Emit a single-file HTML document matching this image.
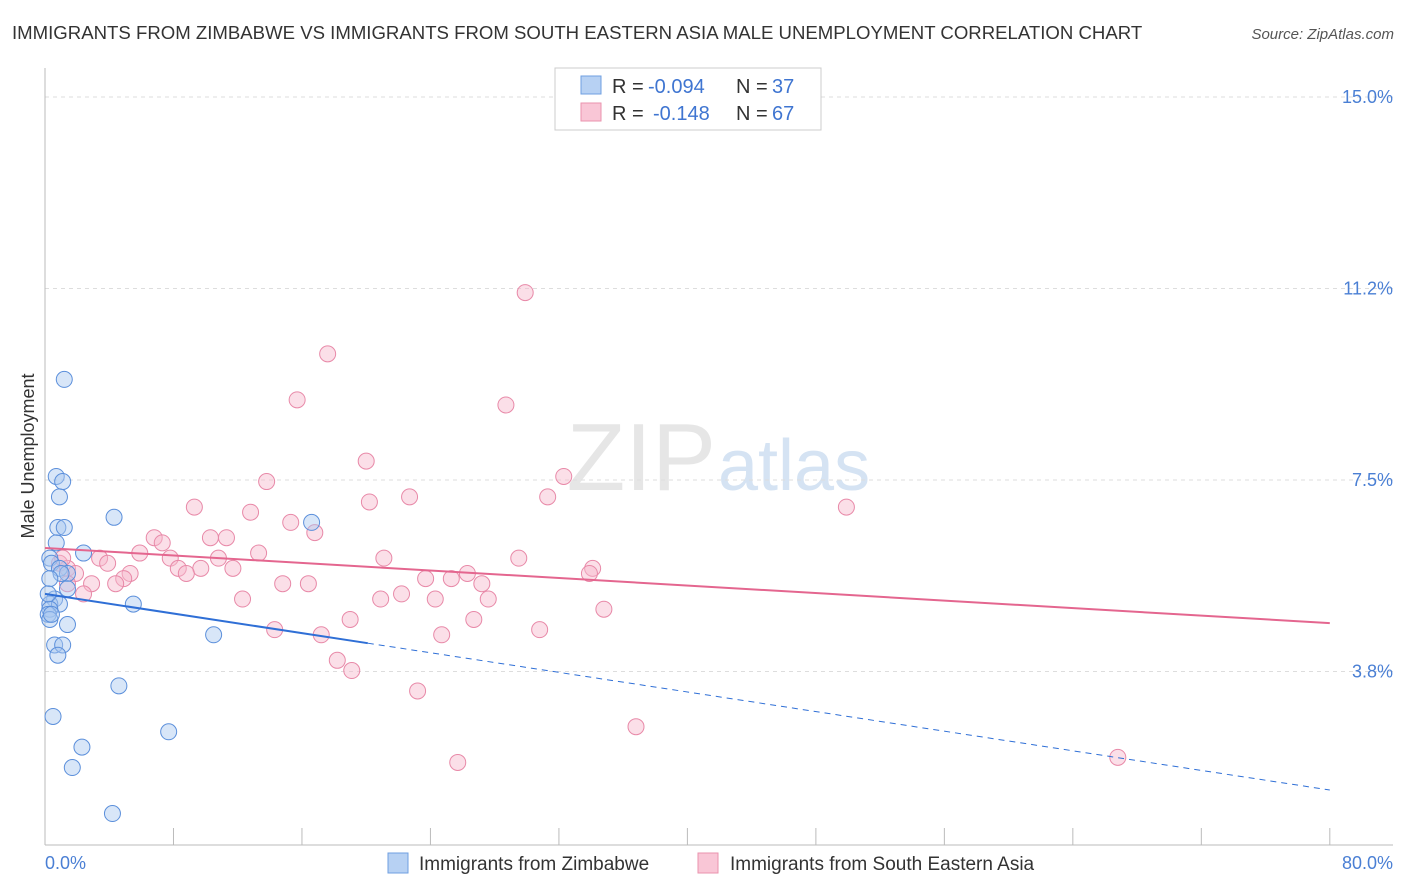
<!DOCTYPE html>
<html><head><meta charset="utf-8"><style>
body{margin:0;background:#fff;font-family:"Liberation Sans",sans-serif;overflow:hidden;}
svg text{font-family:"Liberation Sans",sans-serif;}
</style></head><body>
<svg id="chart" width="1406" height="892" style="overflow:hidden;display:block">
<text x="12" y="39" font-size="18.6" fill="#333">IMMIGRANTS FROM ZIMBABWE VS IMMIGRANTS FROM SOUTH EASTERN ASIA MALE UNEMPLOYMENT CORRELATION CHART</text>
<text x="1394" y="39" font-size="15" fill="#555" text-anchor="end" font-style="italic">Source: ZipAtlas.com</text>
<text x="716" y="490" font-size="96" fill="#e6e6e6" text-anchor="end" font-family="Liberation Serif">ZIP</text>
<text x="718" y="490" font-size="72" fill="#d5e3f3">atlas</text>
<g id="grid"></g><g id="axes"></g><g id="marks"></g>
<text transform="translate(34,456) rotate(-90)" font-size="18" fill="#333" text-anchor="middle">Male Unemployment</text>
<text x="45" y="869" font-size="18" fill="#4a7fd4">0.0%</text>
<text x="1393" y="869" font-size="18" fill="#4a7fd4" text-anchor="end">80.0%</text>
<g>
<rect x="555" y="68" width="266" height="62" fill="#fff" stroke="#ccc"/>
<rect x="581" y="76" width="20" height="18" fill="#b7d1f3" stroke="#6f9fe0"/>
<rect x="581" y="103" width="20" height="18" fill="#f9c6d6" stroke="#ea93ae"/>
<text x="612" y="93" font-size="20" fill="#333">R =</text>
<text x="648" y="93" font-size="20" fill="#3f75d1">-0.094</text>
<text x="736" y="93" font-size="20" fill="#333">N =</text>
<text x="772" y="93" font-size="20" fill="#3f75d1">37</text>
<text x="612" y="120" font-size="20" fill="#333">R =</text>
<text x="653" y="120" font-size="20" fill="#3f75d1">-0.148</text>
<text x="736" y="120" font-size="20" fill="#333">N =</text>
<text x="772" y="120" font-size="20" fill="#3f75d1">67</text>
</g>
<g>
<rect x="388" y="853" width="20" height="20" fill="#b7d1f3" stroke="#6f9fe0"/>
<text x="419" y="870" font-size="19" fill="#333">Immigrants from Zimbabwe</text>
<rect x="698" y="853" width="20" height="20" fill="#f9c6d6" stroke="#ea93ae"/>
<text x="730" y="870" font-size="19" fill="#333">Immigrants from South Eastern Asia</text>
</g>
</svg>
<script>
const yTicks=[3.75,7.5,11.25,15];
const yTickLabels=["3.8%","7.5%","11.2%","15.0%"];
const xTicks=[0,8,16,24,32,40,48,56,64,72,80];
const blueX=[1.2,0.7,1.1,0.9,4.3,0.8,1.2,16.6,2.4,0.3,0.4,0.9,1.4,1.0,0.3,1.4,0.6,0.3,5.5,0.9,0.3,0.2,0.3,1.4,10.5,0.6,1.1,0.8,4.6,0.5,7.7,2.3,1.7,4.2,0.2,0.4,0.7];
const blueY=[9.47,7.57,7.47,7.17,6.77,6.57,6.57,6.67,6.07,5.97,5.87,5.77,5.67,5.67,5.57,5.37,5.17,5.07,5.07,5.07,4.97,4.87,4.77,4.67,4.47,4.27,4.27,4.07,3.47,2.87,2.57,2.27,1.87,0.97,5.27,4.87,6.27];
const pinkX=[29.9,17.6,15.7,28.7,20.0,32.3,13.8,22.7,31.3,20.2,49.9,9.3,12.8,15.3,16.8,10.3,11.3,6.8,7.3,5.9,13.3,10.8,21.1,29.5,3.4,3.9,7.8,8.3,0.9,1.4,9.7,11.7,34.1,26.3,33.9,5.3,8.8,23.7,25.3,1.9,4.9,2.9,4.4,14.8,16.4,27.2,22.2,1.4,20.9,12.3,24.3,27.6,2.4,34.8,19.0,26.7,14.3,17.2,30.8,24.7,18.2,19.1,23.2,36.8,25.7,66.8,1.1];
const pinkY=[11.17,9.97,9.07,8.97,7.87,7.57,7.47,7.17,7.17,7.07,6.97,6.97,6.87,6.67,6.47,6.37,6.37,6.37,6.27,6.07,6.07,5.97,5.97,5.97,5.97,5.87,5.97,5.77,5.87,5.77,5.77,5.77,5.77,5.67,5.67,5.67,5.67,5.57,5.57,5.67,5.57,5.47,5.47,5.47,5.47,5.47,5.27,5.47,5.17,5.17,5.17,5.17,5.27,4.97,4.77,4.77,4.57,4.47,4.57,4.47,3.97,3.77,3.37,2.67,1.97,2.07,5.97];
const blueFit=[5.27,-0.048];
const pinkFit=[6.17,-0.0184];
const NS="http://www.w3.org/2000/svg";
const X=v=>45+v*16.06, Y=v=>97+(15-v)*51.07;
function mk(tag,a,parent){const e=document.createElementNS(NS,tag);for(const k in a)e.setAttribute(k,a[k]);document.getElementById(parent).appendChild(e);return e;}
yTicks.forEach((t,i)=>{
 const l=mk('line',{x1:45,x2:1393,y1:Y(t),y2:Y(t),stroke:'#ddd','stroke-dasharray':'4,4'},'grid');
 
 
 const tx=mk('text',{x:1393,y:Y(t)+6,'font-size':18,fill:'#4a7fd4','text-anchor':'end'},'grid');
 tx.textContent=yTickLabels[i];
 
 
});
const ax=mk('line',{x1:45,x2:1393,y1:845,y2:845,stroke:'#bbb'},'axes');


const ay=mk('line',{x1:45,x2:45,y1:68,y2:845,stroke:'#bbb'},'axes');


xTicks.forEach(t=>{
 const l=mk('line',{x1:X(t),x2:X(t),y1:828,y2:845,stroke:'#bbb'},'axes');
 
 
});
function pts(xs,ys,fill,stroke,name){xs.forEach((x,i)=>{
 const c=mk('circle',{cx:X(x),cy:Y(ys[i]),r:8,fill:fill,'fill-opacity':0.45,stroke:stroke,'stroke-width':1},'marks');
 
 
});}
pts(pinkX,pinkY,'#f7b8cc','#e889a8','point-south-eastern-asia');
pts(blueX,blueY,'#a9c8f0','#5b8fdb','point-zimbabwe');
const f=(fit,x)=>fit[0]+fit[1]*x;
const b1=mk('line',{x1:X(0),y1:Y(f(blueFit,0)),x2:X(20.1),y2:Y(f(blueFit,20.1)),stroke:'#2f6fd6','stroke-width':2},'marks');


const b2=mk('line',{x1:X(20.1),y1:Y(f(blueFit,20.1)),x2:X(80),y2:Y(f(blueFit,80)),stroke:'#2f6fd6','stroke-width':1,'stroke-dasharray':'6,5'},'marks');


const p1=mk('line',{x1:X(0),y1:Y(f(pinkFit,0)),x2:X(80),y2:Y(f(pinkFit,80)),stroke:'#e4668f','stroke-width':2},'marks');


</script>
</body></html>
